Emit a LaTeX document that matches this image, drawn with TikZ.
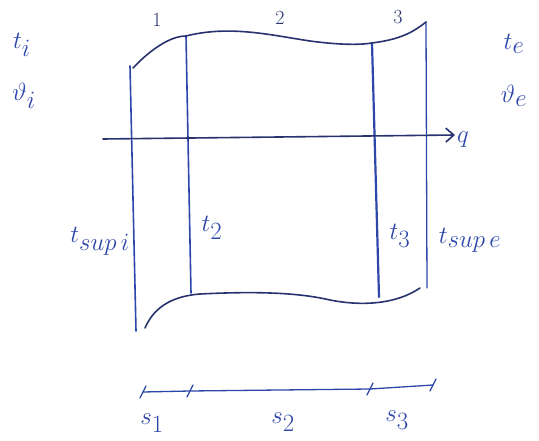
\documentclass[tikz,border=0pt]{standalone}
\usetikzlibrary{arrows.meta}
\definecolor{pen}{RGB}{45,70,170}
\definecolor{ink}{RGB}{40,50,110}
\tikzset{
  stroke/.style={draw=pen, line width=1.6pt, line cap=round},
  lab/.style={text=pen, font=\fontsize{34}{38}\selectfont, inner sep=1pt},
  smalllab/.style={text=ink, font=\fontsize{20}{24}\selectfont, inner sep=1pt},
}
\begin{document}
\begin{tikzpicture}[x=1pt,y=-1pt]
\useasboundingbox (0,0) rectangle (539,441);
% corner coordinates
\coordinate (L1) at (130,66);
\coordinate (L2) at (136,331);
\coordinate (A1) at (186,36);
\coordinate (A2) at (191,293);
\coordinate (B1) at (372,43);
\coordinate (B2) at (379,297);
\coordinate (R1) at (426,22);
\coordinate (R2) at (427,288);
\coordinate (T0) at (133,68);
\coordinate (U0) at (145,328);
\coordinate (U1) at (420,288);
% verticals
\draw[stroke] (L1) -- (L2);
\draw[stroke] (A1) -- (A2);
\draw[stroke, line width=2.2pt] (B1) -- (B2);
\draw[stroke, line width=1.3pt] (R1) -- (R2);
% top wavy boundary
\draw[stroke, draw=ink] (T0) .. controls (150,50) and (170,36) .. (A1)
  .. controls (230,25) and (270,35) .. (310,41)
  .. controls (340,45) and (360,45) .. (B1)
  .. controls (395,40) and (410,35) .. (R1);
% bottom wavy boundary
\draw[stroke, draw=ink] (U0) .. controls (155,305) and (175,296) .. (200,294)
  .. controls (260,291) and (300,293) .. (330,300)
  .. controls (360,306) and (395,305) .. (U1);
% horizontal axis
\coordinate (X0) at (103,139);
\coordinate (X1) at (455,135);
\draw[stroke, draw=ink, -{Straight Barb[length=8pt,width=14pt]}] (X0) -- (X1);
\node[lab, anchor=west] (q) at (456,140) {$q$};
% side labels
\node[lab] (ti) at (22,45) {$t_i$};
\node[lab] (vi) at (24,96) {$\vartheta_i$};
\node[lab] (te) at (514,44) {$t_e$};
\node[lab] (ve) at (514,96) {$\vartheta_e$};
% region numbers
\node[smalllab] (n1) at (157,20) {1};
\node[smalllab] (n2) at (280,18) {2};
\node[smalllab] (n3) at (398,17) {3};
% temperatures
\node[lab] (tsi) at (100,241) {$t_{sup\,i}$};
\node[lab] (t2) at (212,228) {$t_2$};
\node[lab] (t3) at (400,236) {$t_3$};
\node[lab] (tse) at (470,240) {$t_{sup\,e}$};
% thickness scale
\coordinate (S0) at (143,392);
\coordinate (S1) at (190,391);
\coordinate (S2) at (370,389);
\coordinate (S3) at (433,385);
\draw[stroke, line width=1.3pt] (S0) -- (S1);
\draw[stroke, line width=1.3pt] (S1) -- (S2);
\draw[stroke, line width=1.3pt] (S2) -- (S3);
\foreach \p in {S0,S1,S2,S3}
  \draw[stroke, line width=1.3pt] ([shift={(-3,6)}]\p) -- ([shift={(3,-6)}]\p);
\node[lab] (s1) at (152,423) {$s_1$};
\node[lab] (s2) at (283,422) {$s_2$};
\node[lab] (s3) at (397,420) {$s_3$};
\end{tikzpicture}
\end{document}
